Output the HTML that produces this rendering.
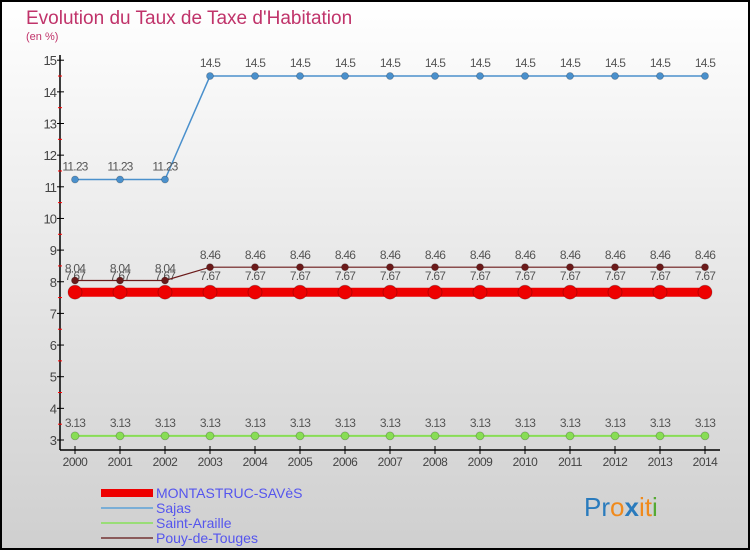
<!DOCTYPE html>
<html><head><meta charset="utf-8"><style>
body{margin:0;width:750px;height:550px;overflow:hidden}
svg{display:block;font-family:"Liberation Sans",sans-serif}
</style></head><body>
<svg id="chart" width="750" height="550">
<defs><linearGradient id="bg" x1="0" y1="0" x2="0" y2="1"><stop offset="0" stop-color="#ffffff"/><stop offset="1" stop-color="#cfcfcf"/></linearGradient></defs>
<rect x="1" y="1" width="748" height="548" fill="url(#bg)" stroke="#000" stroke-width="2"/>
<text x="26" y="24" font-size="19" fill="#c0336a">Evolution du Taux de Taxe d'Habitation</text>
<text x="26" y="40" font-size="11" fill="#c0336a">(en %)</text>
<g id="axes"></g><g id="series"></g>
<g>
<rect x="101" y="489" width="52" height="8" fill="#ee0000"/>
<text x="156" y="498" font-size="14" fill="#5555ee">MONTASTRUC-SAVèS</text>
<line x1="101" y1="508" x2="153" y2="508" stroke="#7aaed6" stroke-width="2"/>
<text x="156" y="513" font-size="14" fill="#5555ee">Sajas</text>
<line x1="101" y1="523" x2="153" y2="523" stroke="#99dd77" stroke-width="2"/>
<text x="156" y="528" font-size="14" fill="#5555ee">Saint-Araille</text>
<line x1="101" y1="538" x2="153" y2="538" stroke="#8a5a5a" stroke-width="2"/>
<text x="156" y="543" font-size="14" fill="#5555ee">Pouy-de-Touges</text>
</g>
<text x="584" y="516" font-size="26"><tspan fill="#2a7bbd">Pr</tspan><tspan fill="#f08a1c">o</tspan><tspan fill="#2a7bbd" font-weight="bold">x</tspan><tspan fill="#f08a1c">it</tspan><tspan fill="#55aa33">i</tspan></text>
</svg>
<script>
const years=[2000,2001,2002,2003,2004,2005,2006,2007,2008,2009,2010,2011,2012,2013,2014];
const montastruc=[7.67,7.67,7.67,7.67,7.67,7.67,7.67,7.67,7.67,7.67,7.67,7.67,7.67,7.67,7.67];
const sajas=[11.23,11.23,11.23,14.5,14.5,14.5,14.5,14.5,14.5,14.5,14.5,14.5,14.5,14.5,14.5];
const saintAraille=[3.13,3.13,3.13,3.13,3.13,3.13,3.13,3.13,3.13,3.13,3.13,3.13,3.13,3.13,3.13];
const pouy=[8.04,8.04,8.04,8.46,8.46,8.46,8.46,8.46,8.46,8.46,8.46,8.46,8.46,8.46,8.46];
const yTicks=[3,4,5,6,7,8,9,10,11,12,13,14,15];
const NS="http://www.w3.org/2000/svg";
const X=i=>75+i*45;
const Y=v=>440-(v-3)*31.65;
function mk(tag,attrs,parent,txt){const e=document.createElementNS(NS,tag);for(const k in attrs)e.setAttribute(k,attrs[k]);if(txt!==undefined)e.textContent=txt;parent.appendChild(e);return e;}
const ax=document.getElementById('axes');
let e=mk('line',{x1:60,y1:55,x2:60,y2:450,stroke:'#000','stroke-width':1.5},ax);


e=mk('line',{x1:60,y1:450,x2:720,y2:450,stroke:'#000','stroke-width':1.5},ax);


yTicks.forEach(t=>{
  mk('line',{x1:57,y1:Y(t),x2:64,y2:Y(t),stroke:'#000'},ax);
  if(t<15)mk('line',{x1:58,y1:Y(t+0.5),x2:62,y2:Y(t+0.5),stroke:'#f00'},ax);
  const l=mk('text',{x:56,y:Y(t)+5,'font-size':13,'text-anchor':'end',fill:'#444','letter-spacing':'-1'},ax,t);
  
  
});
years.forEach((yr,i)=>{
  mk('line',{x1:X(i),y1:446,x2:X(i),y2:454,stroke:'#000'},ax);
  const l=mk('text',{x:X(i),y:466,'font-size':12,'text-anchor':'middle',fill:'#444','letter-spacing':'-0.5'},ax,yr);
  
  
});
const sg=document.getElementById('series');
function series(vals,color,lw,r,name,labelDy){
  const g=mk('g',{},sg);
  
  
  mk('polyline',{points:vals.map((v,i)=>X(i)+','+Y(v)).join(' '),fill:'none',stroke:color,'stroke-width':lw},g);
  vals.forEach((v,i)=>{
    const c=mk('circle',{cx:X(i),cy:Y(v),r:r,fill:color,stroke:'rgba(0,0,0,0.25)','stroke-width':0.8},g);
    
    
    const t=mk('text',{x:X(i),y:Y(v)+labelDy,'font-size':12,'text-anchor':'middle',fill:'#555','letter-spacing':'-0.8'},g,v);
    
    
  });
}
series(saintAraille,'#88dd55',2,4,'series-saint-araille',-9);
series(montastruc,'#ee0000',9,7,'series-montastruc',-12);
series(pouy,'#6b1a1a',1.2,3.5,'series-pouy-de-touges',-8);
series(sajas,'#4a90cc',1.5,3.5,'series-sajas',-9);
</script>
</body></html>
